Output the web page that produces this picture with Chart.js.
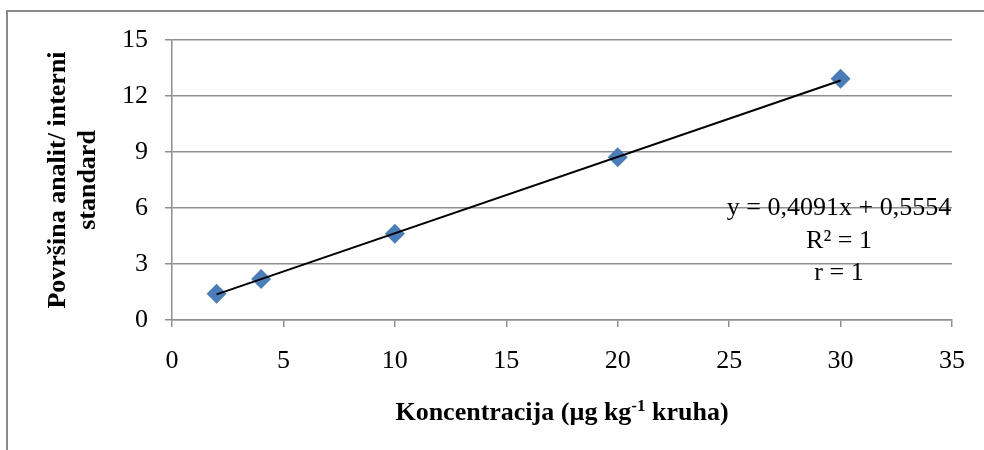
<!DOCTYPE html>
<html>
<head>
<meta charset="utf-8">
<script src="https://cdn.jsdelivr.net/npm/chart.js@4"></script>
<style>
  html, body { margin: 0; padding: 0; background: #fff; }
  #wrap { width: 984px; height: 450px; }
</style>
</head>
<body>
<div id="wrap"><canvas id="calChart" width="984" height="450"></canvas></div>
<script>
// calibration points
const concentrations = [2, 4, 10, 20, 30];
const areaRatios = [1.40, 2.20, 4.62, 8.72, 12.92];
// trendline endpoints (y = 0,4091x + 0,5554)
const trendX = [2, 30];
const trendY = [1.37, 12.83];
const yTicks = [0, 3, 6, 9, 12, 15];
const xTicks = [0, 5, 10, 15, 20, 25, 30, 35];
const equationLines = ['y = 0,4091x + 0,5554', 'R² = 1', 'r = 1'];
const yTitleLines = ['Površina analit/ interni', 'standard'];

const SERIF = '"Liberation Serif", "Times New Roman", serif';
const GRID = '#8f8f8f';

const decorPlugin = {
  id: 'decor',
  beforeDraw(chart) {
    const { ctx } = chart;
    ctx.save();
    ctx.strokeStyle = '#8a8a8a';
    ctx.lineWidth = 2;
    ctx.beginPath();
    ctx.moveTo(7, 450);
    ctx.lineTo(7, 11);
    ctx.lineTo(984, 11);
    ctx.stroke();
    ctx.restore();
  },
  afterDraw(chart) {
    const { ctx, chartArea } = chart;
    ctx.save();
    ctx.fillStyle = '#000';
    // equation text
    ctx.font = '26px ' + SERIF;
    ctx.textAlign = 'center';
    ctx.textBaseline = 'alphabetic';
    const eqBase = [215, 248, 280];
    equationLines.forEach((t, i) => ctx.fillText(t, 839, eqBase[i]));

    // y axis title, rotated, two lines
    ctx.font = 'bold 26px ' + SERIF;
    ctx.translate(58, 180);
    ctx.rotate(-Math.PI / 2);
    ctx.textBaseline = 'middle';
    yTitleLines.forEach((t, i) => ctx.fillText(t, 0, i * 30));
    ctx.setTransform(1, 0, 0, 1, 0, 0);

    // x axis title with superscript
    const cx = (chartArea.left + chartArea.right) / 2;
    const base = 420;
    const p1 = 'Koncentracija (µg kg';
    const sup = '-1';
    const p2 = ' kruha)';
    ctx.textAlign = 'left';
    ctx.textBaseline = 'alphabetic';
    ctx.font = 'bold 26px ' + SERIF;
    const w1 = ctx.measureText(p1).width;
    const w3 = ctx.measureText(p2).width;
    ctx.font = 'bold 17px ' + SERIF;
    const w2 = ctx.measureText(sup).width;
    let x = cx - (w1 + w2 + w3) / 2;
    ctx.font = 'bold 26px ' + SERIF;
    ctx.fillText(p1, x, base);
    x += w1;
    ctx.font = 'bold 17px ' + SERIF;
    ctx.fillText(sup, x, base - 9);
    x += w2;
    ctx.font = 'bold 26px ' + SERIF;
    ctx.fillText(p2, x, base);
    ctx.restore();
  }
};

new Chart(document.getElementById('calChart'), {
  type: 'scatter',
  data: {
    datasets: [
      {
        label: 'Trend',
        type: 'line',
        data: trendX.map((x, i) => ({ x, y: trendY[i] })),
        borderColor: '#000',
        borderWidth: 2,
        pointRadius: 0,
        fill: false,
        order: 1
      },
      {
        label: 'Kalibracija',
        data: concentrations.map((x, i) => ({ x, y: areaRatios[i] })),
        pointStyle: 'rectRot',
        pointRadius: 10,
        pointHoverRadius: 10,
        backgroundColor: '#4a7ebb',
        borderColor: '#4a7ebb',
        borderWidth: 0,
        order: 2
      }
    ]
  },
  options: {
    responsive: false,
    animation: false,
    layout: { padding: { top: 40, right: 31, left: 0, bottom: 0 } },
    plugins: { legend: { display: false }, tooltip: { enabled: false } },
    scales: {
      x: {
        type: 'linear',
        min: 0,
        max: 35,
        afterBuildTicks: (s) => { s.ticks = xTicks.map(v => ({ value: v })); },
        afterFit: (s) => { s.height = 130; },
        border: { color: GRID, width: 1.5 },
        grid: { drawOnChartArea: false, drawTicks: true, tickLength: 7, color: GRID, lineWidth: 1.5 },
        ticks: { color: '#000', font: { family: SERIF, size: 26 }, padding: 19, maxRotation: 0 }
      },
      y: {
        type: 'linear',
        min: 0,
        max: 15,
        afterBuildTicks: (s) => { s.ticks = yTicks.map(v => ({ value: v })); },
        afterFit: (s) => { s.width = 172; },
        border: { color: GRID, width: 1.5 },
        grid: { color: GRID, lineWidth: 1.5, tickLength: 7 },
        ticks: { color: '#000', font: { family: SERIF, size: 26 }, padding: 17 }
      }
    }
  },
  plugins: [decorPlugin]
});
</script>
</body>
</html>
